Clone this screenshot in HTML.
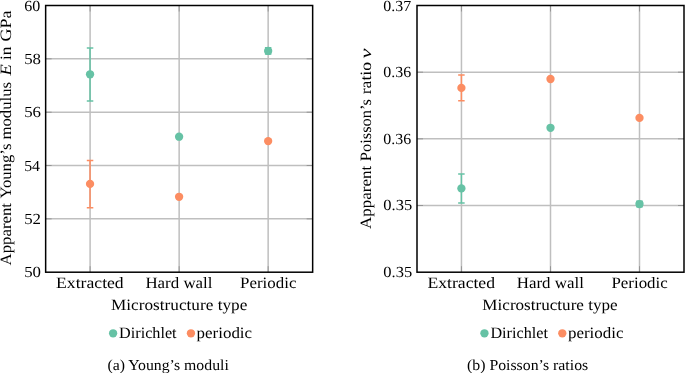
<!DOCTYPE html>
<html><head><meta charset="utf-8"><style>
html,body{margin:0;padding:0;background:#fff;}
svg{display:block;font-family:"Liberation Serif",serif;will-change:transform;}
</style></head><body>
<svg width="685" height="373" viewBox="0 0 685 373">
<line x1="45.65" y1="58.84" x2="312.65" y2="58.84" stroke="#bfbfbf" stroke-width="1.5"/>
<line x1="45.65" y1="112.18" x2="312.65" y2="112.18" stroke="#bfbfbf" stroke-width="1.5"/>
<line x1="45.65" y1="165.52" x2="312.65" y2="165.52" stroke="#bfbfbf" stroke-width="1.5"/>
<line x1="45.65" y1="218.86" x2="312.65" y2="218.86" stroke="#bfbfbf" stroke-width="1.5"/>
<line x1="90.1" y1="5.5" x2="90.1" y2="272.2" stroke="#bfbfbf" stroke-width="1.5"/>
<line x1="179.15" y1="5.5" x2="179.15" y2="272.2" stroke="#bfbfbf" stroke-width="1.5"/>
<line x1="268.15" y1="5.5" x2="268.15" y2="272.2" stroke="#bfbfbf" stroke-width="1.5"/>
<line x1="45.65" y1="58.84" x2="51.65" y2="58.84" stroke="#8a8a8a" stroke-width="0.8"/>
<line x1="306.65" y1="58.84" x2="312.65" y2="58.84" stroke="#8a8a8a" stroke-width="0.8"/>
<line x1="45.65" y1="112.18" x2="51.65" y2="112.18" stroke="#8a8a8a" stroke-width="0.8"/>
<line x1="306.65" y1="112.18" x2="312.65" y2="112.18" stroke="#8a8a8a" stroke-width="0.8"/>
<line x1="45.65" y1="165.52" x2="51.65" y2="165.52" stroke="#8a8a8a" stroke-width="0.8"/>
<line x1="306.65" y1="165.52" x2="312.65" y2="165.52" stroke="#8a8a8a" stroke-width="0.8"/>
<line x1="45.65" y1="218.86" x2="51.65" y2="218.86" stroke="#8a8a8a" stroke-width="0.8"/>
<line x1="306.65" y1="218.86" x2="312.65" y2="218.86" stroke="#8a8a8a" stroke-width="0.8"/>
<line x1="90.1" y1="5.5" x2="90.1" y2="11.5" stroke="#8a8a8a" stroke-width="0.8"/>
<line x1="90.1" y1="266.2" x2="90.1" y2="272.2" stroke="#8a8a8a" stroke-width="0.8"/>
<line x1="179.15" y1="5.5" x2="179.15" y2="11.5" stroke="#8a8a8a" stroke-width="0.8"/>
<line x1="179.15" y1="266.2" x2="179.15" y2="272.2" stroke="#8a8a8a" stroke-width="0.8"/>
<line x1="268.15" y1="5.5" x2="268.15" y2="11.5" stroke="#8a8a8a" stroke-width="0.8"/>
<line x1="268.15" y1="266.2" x2="268.15" y2="272.2" stroke="#8a8a8a" stroke-width="0.8"/>
<path d="M90.05 48V100.9M86.8 48H93.3M86.8 100.9H93.3" stroke="#66c2a5" stroke-width="1.5" fill="none"/>
<circle cx="90.05" cy="74.3" r="4.15" fill="#66c2a5"/>
<circle cx="179.1" cy="136.7" r="4.15" fill="#66c2a5"/>
<path d="M268.15 47.8V54.1M264.9 47.8H271.4M264.9 54.1H271.4" stroke="#66c2a5" stroke-width="1.5" fill="none"/>
<circle cx="268.15" cy="50.95" r="4.15" fill="#66c2a5"/>
<path d="M90.05 160.5V207.7M86.8 160.5H93.3M86.8 207.7H93.3" stroke="#fc8d62" stroke-width="1.5" fill="none"/>
<circle cx="90.05" cy="183.9" r="4.15" fill="#fc8d62"/>
<circle cx="179.1" cy="196.8" r="4.15" fill="#fc8d62"/>
<circle cx="268.15" cy="141.1" r="4.15" fill="#fc8d62"/>
<rect x="45.65" y="5.5" width="267" height="266.7" fill="none" stroke="#000" stroke-width="1.5"/>
<line x1="417" y1="72.17" x2="684" y2="72.17" stroke="#bfbfbf" stroke-width="1.5"/>
<line x1="417" y1="138.85" x2="684" y2="138.85" stroke="#bfbfbf" stroke-width="1.5"/>
<line x1="417" y1="205.52" x2="684" y2="205.52" stroke="#bfbfbf" stroke-width="1.5"/>
<line x1="461.45" y1="5.5" x2="461.45" y2="272.2" stroke="#bfbfbf" stroke-width="1.5"/>
<line x1="550.5" y1="5.5" x2="550.5" y2="272.2" stroke="#bfbfbf" stroke-width="1.5"/>
<line x1="639.5" y1="5.5" x2="639.5" y2="272.2" stroke="#bfbfbf" stroke-width="1.5"/>
<line x1="417" y1="72.17" x2="423" y2="72.17" stroke="#8a8a8a" stroke-width="0.8"/>
<line x1="678" y1="72.17" x2="684" y2="72.17" stroke="#8a8a8a" stroke-width="0.8"/>
<line x1="417" y1="138.85" x2="423" y2="138.85" stroke="#8a8a8a" stroke-width="0.8"/>
<line x1="678" y1="138.85" x2="684" y2="138.85" stroke="#8a8a8a" stroke-width="0.8"/>
<line x1="417" y1="205.52" x2="423" y2="205.52" stroke="#8a8a8a" stroke-width="0.8"/>
<line x1="678" y1="205.52" x2="684" y2="205.52" stroke="#8a8a8a" stroke-width="0.8"/>
<line x1="461.45" y1="5.5" x2="461.45" y2="11.5" stroke="#8a8a8a" stroke-width="0.8"/>
<line x1="461.45" y1="266.2" x2="461.45" y2="272.2" stroke="#8a8a8a" stroke-width="0.8"/>
<line x1="550.5" y1="5.5" x2="550.5" y2="11.5" stroke="#8a8a8a" stroke-width="0.8"/>
<line x1="550.5" y1="266.2" x2="550.5" y2="272.2" stroke="#8a8a8a" stroke-width="0.8"/>
<line x1="639.5" y1="5.5" x2="639.5" y2="11.5" stroke="#8a8a8a" stroke-width="0.8"/>
<line x1="639.5" y1="266.2" x2="639.5" y2="272.2" stroke="#8a8a8a" stroke-width="0.8"/>
<path d="M461.4 173.9V202.9M458.15 173.9H464.65M458.15 202.9H464.65" stroke="#66c2a5" stroke-width="1.5" fill="none"/>
<circle cx="461.4" cy="188.4" r="4.15" fill="#66c2a5"/>
<circle cx="550.5" cy="127.8" r="4.15" fill="#66c2a5"/>
<path d="M639.5 201.3V206.8M636.25 201.3H642.75M636.25 206.8H642.75" stroke="#66c2a5" stroke-width="1.5" fill="none"/>
<circle cx="639.5" cy="204.05" r="4.15" fill="#66c2a5"/>
<path d="M461.4 75V100.85M458.15 75H464.65M458.15 100.85H464.65" stroke="#fc8d62" stroke-width="1.5" fill="none"/>
<circle cx="461.4" cy="87.9" r="4.15" fill="#fc8d62"/>
<circle cx="550.5" cy="79" r="4.15" fill="#fc8d62"/>
<circle cx="639.5" cy="117.9" r="4.15" fill="#fc8d62"/>
<rect x="417" y="5.5" width="267" height="266.7" fill="none" stroke="#000" stroke-width="1.5"/>
<circle cx="113.1" cy="333.3" r="4.15" fill="#66c2a5"/><circle cx="190.95" cy="333.3" r="4.15" fill="#fc8d62"/>
<circle cx="484.45" cy="333.3" r="4.15" fill="#66c2a5"/><circle cx="562.3" cy="333.3" r="4.15" fill="#fc8d62"/>
<g font-family="Liberation Serif" fill="#000" text-rendering="geometricPrecision">
<text x="24.16" y="10.5" font-size="15.4" textLength="16" lengthAdjust="spacingAndGlyphs">60</text>
<text x="24.16" y="63.9" font-size="15.4" textLength="16.84" lengthAdjust="spacingAndGlyphs">58</text>
<text x="24.16" y="117.2" font-size="15.4" textLength="16.84" lengthAdjust="spacingAndGlyphs">56</text>
<text x="24.16" y="170.5" font-size="15.4" textLength="15.84" lengthAdjust="spacingAndGlyphs">54</text>
<text x="24.16" y="223.8" font-size="15.4" textLength="16.84" lengthAdjust="spacingAndGlyphs">52</text>
<text x="24.16" y="277.1" font-size="15.4" textLength="16.84" lengthAdjust="spacingAndGlyphs">50</text>
<text x="383.3" y="10.5" font-size="15.4" textLength="27.9" lengthAdjust="spacingAndGlyphs">0.37</text>
<text x="383.3" y="77.1" font-size="15.4" textLength="27.9" lengthAdjust="spacingAndGlyphs">0.36</text>
<text x="383.3" y="143.7" font-size="15.4" textLength="27.9" lengthAdjust="spacingAndGlyphs">0.36</text>
<text x="383.3" y="210.3" font-size="15.4" textLength="28.9" lengthAdjust="spacingAndGlyphs">0.35</text>
<text x="383.3" y="276.9" font-size="15.4" textLength="28.9" lengthAdjust="spacingAndGlyphs">0.35</text>
<text x="56.1" y="288.4" font-size="15.8" textLength="67.6" lengthAdjust="spacingAndGlyphs">Extracted</text>
<text x="145.4" y="288.4" font-size="15.8" textLength="67.1" lengthAdjust="spacingAndGlyphs">Hard wall</text>
<text x="240.1" y="288.4" font-size="15.8" textLength="56.3" lengthAdjust="spacingAndGlyphs">Periodic</text>
<text x="427.45" y="288.4" font-size="15.8" textLength="67.6" lengthAdjust="spacingAndGlyphs">Extracted</text>
<text x="516.75" y="288.4" font-size="15.8" textLength="67.1" lengthAdjust="spacingAndGlyphs">Hard wall</text>
<text x="611.45" y="288.4" font-size="15.8" textLength="56.3" lengthAdjust="spacingAndGlyphs">Periodic</text>
<text x="111" y="309.7" font-size="15.8" textLength="136.3" lengthAdjust="spacingAndGlyphs">Microstructure type</text>
<text x="482.35" y="309.7" font-size="15.8" textLength="135.3" lengthAdjust="spacingAndGlyphs">Microstructure type</text>
<text x="119.1" y="337.5" font-size="15.8" textLength="57.5" lengthAdjust="spacingAndGlyphs">Dirichlet</text>
<text x="196.6" y="337.5" font-size="15.8" textLength="55.5" lengthAdjust="spacingAndGlyphs">periodic</text>
<text x="490.45" y="337.5" font-size="15.8" textLength="57.5" lengthAdjust="spacingAndGlyphs">Dirichlet</text>
<text x="567.95" y="337.5" font-size="15.8" textLength="55.5" lengthAdjust="spacingAndGlyphs">periodic</text>
<text x="107.4" y="369.6" font-size="15.2" textLength="121.4" lengthAdjust="spacingAndGlyphs">(a) Young’s moduli</text>
<text x="467" y="369.6" font-size="15.2" textLength="121.2" lengthAdjust="spacingAndGlyphs">(b) Poisson’s ratios</text>
<text transform="translate(11.2,265.5) rotate(-90)" x="0" y="0" font-size="15.8" textLength="62.5" lengthAdjust="spacingAndGlyphs">Apparent</text>
<text transform="translate(11.2,198.5) rotate(-90)" x="0" y="0" font-size="15.8" textLength="55" lengthAdjust="spacingAndGlyphs">Young’s</text>
<text transform="translate(11.2,139.5) rotate(-90)" x="0" y="0" font-size="15.8" textLength="57.5" lengthAdjust="spacingAndGlyphs">modulus</text>
<text transform="translate(11.2,75.5) rotate(-90)" x="0" y="0" font-size="15.8" font-style="italic" textLength="11.25" lengthAdjust="spacingAndGlyphs">E</text>
<text transform="translate(11.2,60) rotate(-90)" x="0" y="0" font-size="15.8" textLength="13.5" lengthAdjust="spacingAndGlyphs">in</text>
<text transform="translate(11.2,41.5) rotate(-90)" x="0" y="0" font-size="15.8" textLength="31" lengthAdjust="spacingAndGlyphs">GPa</text>
<text transform="translate(370.6,229) rotate(-90)" x="0" y="0" font-size="15.8" textLength="63.25" lengthAdjust="spacingAndGlyphs">Apparent</text>
<text transform="translate(370.6,161.25) rotate(-90)" x="0" y="0" font-size="15.8" textLength="62.25" lengthAdjust="spacingAndGlyphs">Poisson’s</text>
<text transform="translate(370.6,94.25) rotate(-90)" x="0" y="0" font-size="15.8" textLength="32.25" lengthAdjust="spacingAndGlyphs">ratio</text>
<text transform="translate(370.6,58.5) rotate(-90)" x="0" y="0" font-size="15.8" font-style="italic" textLength="10" lengthAdjust="spacingAndGlyphs">ν</text>
</g>
</svg>
</body></html>
